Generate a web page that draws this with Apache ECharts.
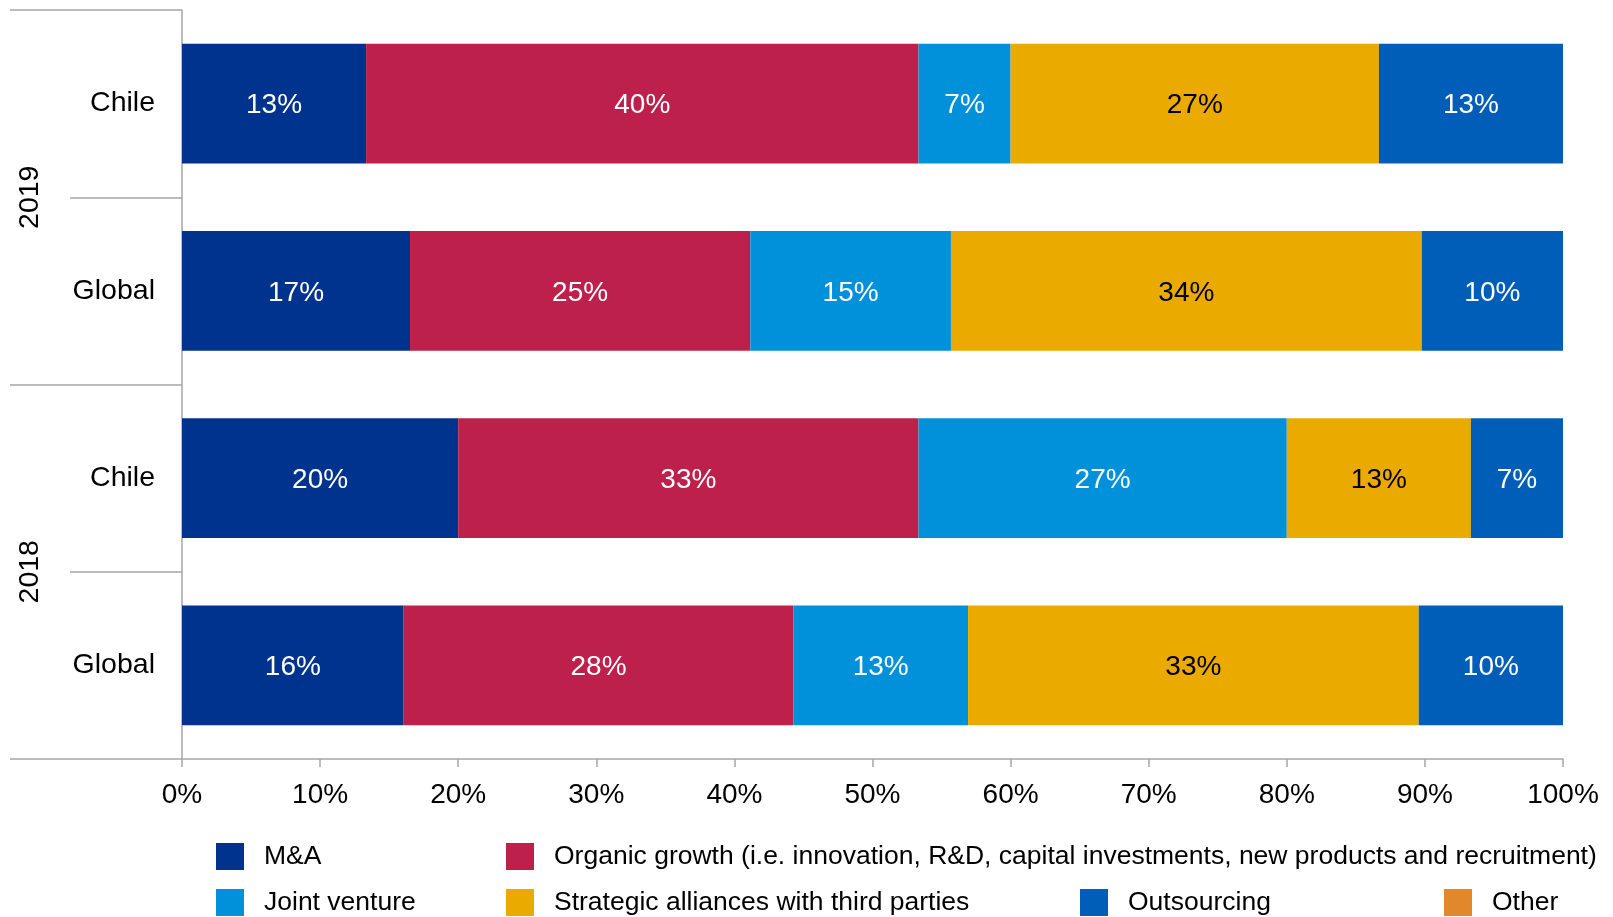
<!DOCTYPE html>
<html>
<head>
<meta charset="utf-8">
<script src="https://cdn.jsdelivr.net/npm/echarts@6/dist/echarts.min.js"></script>
<style>
html,body{margin:0;padding:0;background:#fff;}
#chart{width:1613px;height:917px;}
</style>
</head>
<body>
<div id="chart"></div>
<script>
// Rows top to bottom
const rowLabels = ['Chile', 'Global', 'Chile', 'Global'];
const yearLabels = ['2019', '2018'];
const seriesNames = ['M&A', 'Organic growth (i.e. innovation, R&D, capital investments, new products and recruitment)', 'Joint venture', 'Strategic alliances with third parties', 'Outsourcing', 'Other'];
const mna        = [13.33, 16.51, 20.00, 16.05];
const organic    = [40.00, 24.64, 33.33, 28.22];
const jointVent  = [6.67, 14.53, 26.67, 12.65];
const strategic  = [26.67, 34.09, 13.33, 32.63];
const outsourcing= [13.33, 10.23, 6.67, 10.45];
const other      = [0, 0, 0, 0];
const xTicks = [0, 10, 20, 30, 40, 50, 60, 70, 80, 90, 100];

const colors = ['#00338D', '#BC204B', '#0091DA', '#EAAA00', '#005EB8', '#E0882A'];
const labelColors = ['#fff', '#fff', '#fff', '#000', '#fff', '#fff'];
const values = [mna, organic, jointVent, strategic, outsourcing, other];
const FONT = "'Liberation Sans', Arial, sans-serif";

const chart = echarts.init(document.getElementById('chart'));

const series = seriesNames.map((name, i) => ({
  name: name,
  type: 'bar',
  stack: 'total',
  barWidth: '64%',
  yAxisIndex: 0,
  data: values[i],
  itemStyle: { color: colors[i] },
  label: {
    show: true,
    position: 'inside',
    offset: [0, 2],
    fontSize: 28,
    fontFamily: FONT,
    color: labelColors[i],
    formatter: p => p.value > 0 ? Math.round(p.value) + '%' : ''
  }
}));

const legendPos = [
  { left: 216, top: 843 },
  { left: 506, top: 843 },
  { left: 216, top: 889 },
  { left: 506, top: 889 },
  { left: 1080, top: 889 },
  { left: 1444, top: 889 }
];
const legends = seriesNames.map((name, i) => ({
  data: [name],
  left: legendPos[i].left,
  top: legendPos[i].top,
  padding: 0,
  itemWidth: 28,
  itemHeight: 27,
  icon: 'rect',
  selectedMode: false,
  textStyle: { fontSize: 26.5, fontFamily: FONT, color: '#000', padding: [0, 0, 0, 15] }
}));

chart.setOption({
  animation: false,
  backgroundColor: '#fff',
  grid: { left: 182, right: 50, top: 10, bottom: 158, containLabel: false },
  legend: legends,
  xAxis: {
    type: 'value',
    min: 0, max: 100, interval: 10,
    axisLine: { show: true, lineStyle: { color: '#A6A6A6', width: 1.5 } },
    axisTick: { show: true, length: 8, lineStyle: { color: '#A6A6A6', width: 1.5 } },
    splitLine: { show: false },
    axisLabel: { formatter: '{value}%', fontSize: 28, fontFamily: FONT, color: '#000', margin: 22 }
  },
  yAxis: [
    {
      type: 'category',
      data: rowLabels,
      inverse: true,
      position: 'left',
      axisLine: { show: true, lineStyle: { color: '#A6A6A6', width: 1.5 } },
      axisTick: { show: true, length: 112, lineStyle: { color: '#A6A6A6', width: 1.5 } },
      axisLabel: { fontSize: 28.5, fontFamily: FONT, color: '#000', margin: 27, padding: [8, 0, 0, 0] }
    },
    {
      type: 'category',
      data: yearLabels,
      inverse: true,
      position: 'left',
      axisLine: { show: false },
      axisTick: { show: true, length: 172, lineStyle: { color: '#A6A6A6', width: 1.5 } },
      axisLabel: { fontSize: 28.5, fontFamily: FONT, color: '#000', rotate: 90, margin: 137 }
    }
  ],
  series: series
});
</script>
</body>
</html>
